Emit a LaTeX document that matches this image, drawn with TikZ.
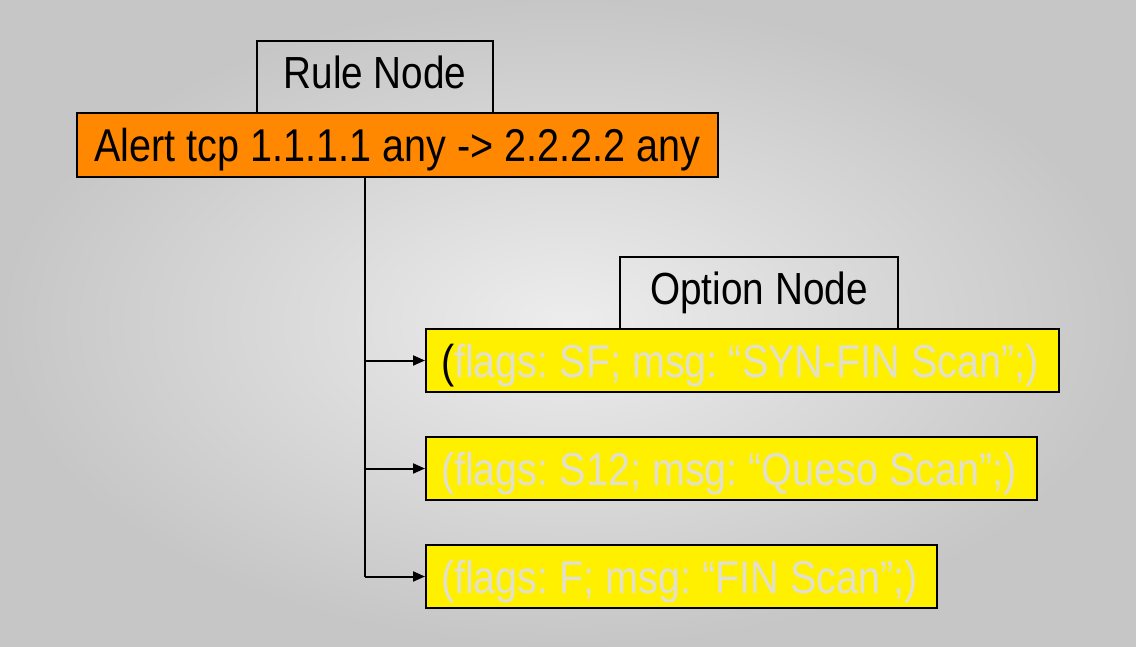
\documentclass[tikz,border=0pt]{standalone}
\usepackage{fontspec}
\setmainfont[FakeStretch=0.86]{Liberation Sans}
\usetikzlibrary{arrows.meta}
\definecolor{bgin}{HTML}{EDEDED}
\definecolor{bgout}{HTML}{C6C6C6}
\definecolor{orange1}{HTML}{FF8800}
\definecolor{yellow1}{HTML}{FFF000}
\definecolor{faded}{HTML}{E2DFCC}
\frenchspacing
\tikzset{
  label box/.style={draw=black, line width=2pt, minimum width=#1, minimum height=72pt, inner sep=0pt, text depth=10pt, font=\fontsize{45}{52}\selectfont},
  rule box/.style={draw=black, line width=2pt, fill=orange1, minimum width=641pt, minimum height=64pt, inner sep=0pt, text depth=0pt, font=\fontsize{46}{54}\selectfont},
  opt box/.style={draw=black, line width=2pt, fill=yellow1, text=faded, anchor=west, minimum height=63pt, inner ysep=0pt, inner xsep=15pt, text depth=0pt, font=\fontsize{46}{54}\selectfont},
  link/.style={line width=2pt, -{Triangle[length=12pt, width=10pt]}}
}
\begin{document}
\begin{tikzpicture}[x=1pt, y=-1pt]
\shade[inner color=bgin, outer color=bgout] (0,0) rectangle (1136,646);
\useasboundingbox (0,0) rectangle (1136,646);
% rule node
\node[label box=236pt] (rulelabel) at (375,77) {Rule Node};
\node[rule box] (rule) at (397.5,145) {Alert tcp 1.1.1.1 any -> 2.2.2.2 any};
% option nodes
\node[label box=278pt] (optlabel) at (759,293) {Option Node};
\node[opt box] (opt1) at (425,360.5) {\makebox[603pt][l]{\textcolor{black}{(}flags: SF; msg: “SYN-FIN Scan”;)}};
\node[opt box] (opt2) at (425,468.5) {\makebox[581pt][l]{(flags: S12; msg: “Queso Scan”;)}};
\node[opt box] (opt3) at (425,576.5) {\makebox[481pt][l]{(flags: F; msg: “FIN Scan”;)}};
% connectors
\coordinate (spine) at (365,0);
\draw[line width=2pt] (rule.south -| spine) -- (spine |- opt3.west);
\draw[link] (spine |- opt1.west) -- (opt1.west);
\draw[link] (spine |- opt2.west) -- (opt2.west);
\draw[link] (spine |- opt3.west) -- (opt3.west);
\end{tikzpicture}
\end{document}
